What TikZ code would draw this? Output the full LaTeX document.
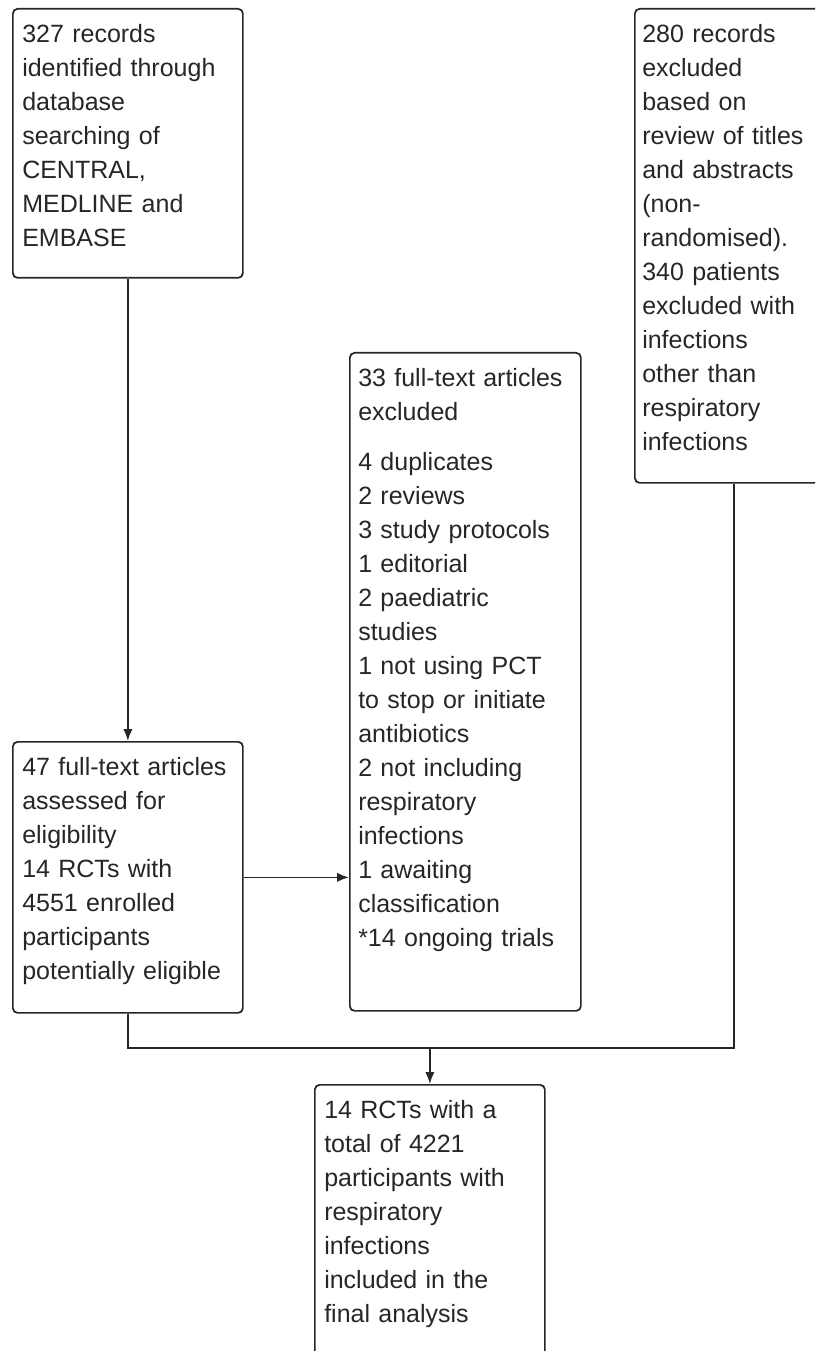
\documentclass[tikz,border=0pt]{standalone}
\usepackage{fontspec}
\setmainfont{Liberation Sans}
\usetikzlibrary{arrows.meta, calc}

\begin{document}
\begin{tikzpicture}[x=1pt, y=-1pt,
        box/.style={draw=black!85, line width=1.3pt, rounded corners=3.5pt, anchor=north west, inner sep=0pt},
        txt/.style={anchor=north west, inner sep=0pt, text width=170pt, align=left, text=black!85,
            font=\fontsize{18.75pt}{25.5pt}\selectfont},
        link/.style={draw=black!85, line width=1.3pt},
        arr/.style={link, -{Latex[length=9pt, width=7pt]}}]
        \useasboundingbox (0,0) rectangle (611.25,1013.25);
        \clip (0,0) rectangle (611.25,1013.25);

        \node[box, minimum width=172.5pt, minimum height=201.75pt] (recs) at (9,6) {};
        \node[box, minimum width=148.5pt, minimum height=355.5pt] (excl) at (475.5,6) {};
        \node[box, minimum width=173.25pt, minimum height=493.5pt] (ftex) at (261.75,264) {};
        \node[box, minimum width=172.5pt, minimum height=203.25pt] (ftas) at (9,555.75) {};
        \node[box, minimum width=172.5pt, minimum height=260pt] (incl) at (235.5,813) {};

        \node[txt] (recs-t) at ($(recs.north west)+(7.5,7.65)$) {\strut 327 records\\identified through\\database\\searching of\\CENTRAL,\\MEDLINE and\\EMBASE};
        \node[txt] (excl-t) at ($(excl.north west)+(6,7.65)$) {\strut 280 records\\excluded\\based on\\review of titles\\and abstracts\\(non-\\randomised).\\340 patients\\excluded with\\infections\\other than\\respiratory\\infections};
        \node[txt] (ftex-t) at ($(ftex.north west)+(6.75,7.65)$) {\strut 33 full-text articles\\excluded\\[12pt]4 duplicates\\2 reviews\\3 study protocols\\1 editorial\\2 paediatric\\studies\\1 not using PCT\\to stop or initiate\\antibiotics\\2 not including\\respiratory\\infections\\1 awaiting\\classification\\{}*14 ongoing trials};
        \node[txt] (ftas-t) at ($(ftas.north west)+(7.5,7.65)$) {\strut 47 full-text articles\\assessed for\\eligibility\\14 RCTs with\\4551 enrolled\\participants\\potentially eligible};
        \node[txt] (incl-t) at ($(incl.north west)+(7.5,7.65)$) {\strut 14 RCTs with a\\total of 4221\\participants with\\respiratory\\infections\\included in the\\final analysis};

        \coordinate (bend) at (0,786);
        \coordinate (merge) at (incl.north |- bend);

        \draw[arr] (recs.south) -- (ftas.north);
        \draw[arr] (ftas.east) -- (ftas.east -| ftex.west);
        \draw[link] (ftas.south) |- (merge) -| (excl.south);
        \draw[arr] (merge) -- (incl.north);
\end{tikzpicture}
\end{document}
